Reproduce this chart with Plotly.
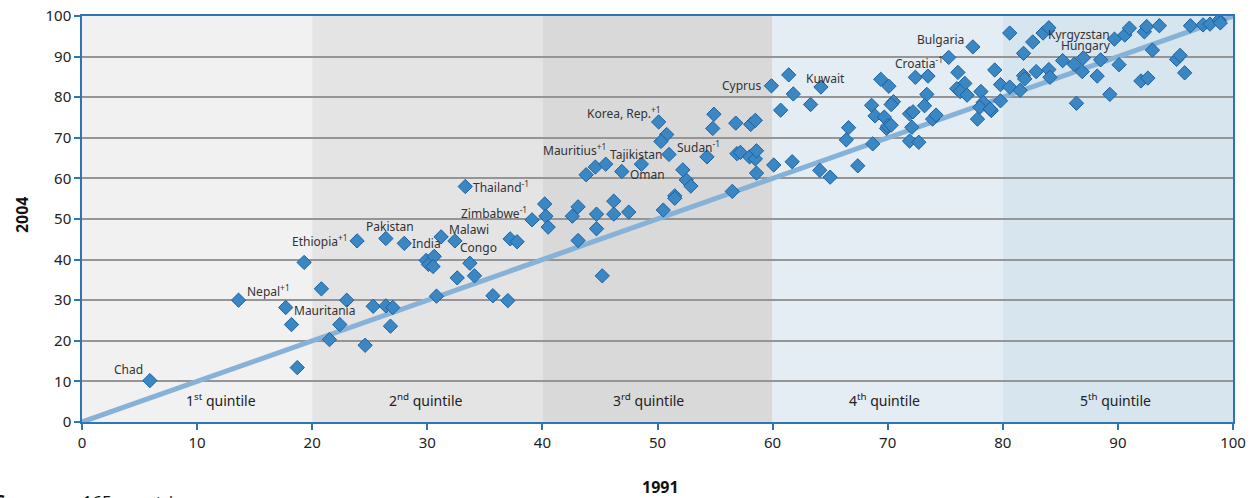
import plotly.graph_objects as go

# ---- data ----
x1991 = [5.9, 13.6, 17.7, 18.2, 18.7, 19.3, 20.8, 21.5, 22.4, 23.0, 23.9, 24.6, 25.3, 26.4, 27.0, 26.8,
         26.4, 28.0, 29.9, 30.1, 30.6, 30.5, 30.8, 31.2, 32.4, 32.6, 33.7, 34.1, 35.7, 37.0, 37.2, 37.8,
         33.3, 39.1, 40.2, 40.3, 40.5, 42.6, 43.1, 43.1, 44.7, 44.7, 45.2, 46.2, 46.2, 47.5, 50.5, 51.5,
         51.5, 52.5, 52.9, 56.5, 43.8, 44.6, 45.5, 46.9, 48.6, 51.0, 52.2, 50.1, 50.8, 50.3, 54.9, 54.8,
         56.8, 58.1, 58.5, 54.3, 56.9, 57.2, 58.0, 58.5, 58.6, 58.6, 59.9, 61.4, 61.8, 60.7, 60.1, 61.7,
         64.2, 63.3, 64.1, 65.0, 67.4, 66.4, 66.6, 68.7, 68.6, 68.9, 69.7, 69.4, 70.1, 70.5, 70.3, 69.9,
         70.0, 70.3, 71.9, 72.7, 72.1, 71.9, 72.2, 72.4, 73.5, 73.4, 73.2, 73.9, 74.2, 75.3, 77.4, 76.1,
         76.7, 76.0, 76.3, 76.9, 78.1, 78.3, 78.0, 77.8, 79.0, 78.9, 79.3, 79.8, 80.6, 79.8, 81.5, 80.6,
         81.8, 82.6, 81.8, 81.9, 82.9, 84.0, 84.1, 83.5, 84.0, 85.2, 86.2, 87.0, 86.9, 86.4, 88.2, 88.5,
         89.3, 90.1, 89.7, 90.6, 91.0, 92.3, 92.5, 93.6, 93.0, 92.0, 92.6, 95.1, 95.4, 95.8, 96.3, 97.4,
         98.0, 98.8, 98.9]
y2004 = [10.2, 30.0, 28.2, 24.0, 13.4, 39.3, 32.8, 20.3, 24.0, 30.0, 44.6, 18.9, 28.5, 28.6, 28.2, 23.6,
         45.2, 44.0, 39.8, 38.8, 40.8, 38.3, 31.0, 45.6, 44.6, 35.5, 39.1, 36.0, 31.1, 29.9, 45.1, 44.4,
         58.0, 49.8, 53.7, 50.7, 48.0, 50.7, 53.0, 44.7, 51.2, 47.6, 36.0, 54.4, 51.2, 51.7, 52.2, 55.7,
         55.1, 59.6, 58.1, 56.8, 60.9, 62.8, 63.5, 61.7, 63.5, 65.9, 62.1, 73.9, 70.8, 69.1, 75.8, 72.3,
         73.6, 73.3, 74.3, 65.3, 66.1, 66.4, 65.3, 64.8, 66.8, 61.3, 82.8, 85.5, 80.8, 76.8, 63.3, 64.1,
         82.5, 78.2, 62.0, 60.3, 63.1, 69.5, 72.5, 68.5, 78.0, 75.4, 75.1, 84.4, 82.7, 78.9, 78.2, 72.3,
         72.9, 73.1, 69.2, 68.9, 72.6, 75.9, 76.4, 84.9, 85.2, 80.7, 77.9, 74.6, 75.6, 89.8, 92.4, 86.1,
         83.4, 82.1, 81.4, 80.5, 81.4, 78.7, 77.5, 74.6, 76.7, 77.1, 86.7, 83.1, 82.5, 79.1, 81.7, 95.8,
         90.8, 93.6, 85.3, 84.5, 86.3, 86.8, 84.9, 95.8, 97.1, 89.0, 88.1, 89.7, 86.3, 78.5, 85.2, 89.2,
         80.7, 88.0, 94.3, 95.3, 97.0, 96.1, 97.4, 97.6, 91.6, 84.0, 84.7, 89.3, 90.3, 86.0, 97.6, 97.8,
         98.0, 99.0, 98.3]

label_names = ["Chad", "Nepal<sup>+1</sup>", "Mauritania", "Ethiopia<sup>+1</sup>", "Pakistan", "India",
               "Malawi", "Congo", "Thailand<sup>-1</sup>", "Zimbabwe<sup>-1</sup>", "Mauritius<sup>+1</sup>",
               "Tajikistan", "Oman", "Sudan<sup>-1</sup>", "Korea, Rep.<sup>+1</sup>", "Cyprus", "Kuwait",
               "Croatia<sup>-1</sup>", "Bulgaria", "Kyrgyzstan", "Hungary"]
label_points = [0, 1, 2, 10, 16, 17, 23, 24, 32, 33, 54, 56, 55, 57, 59, 74, 80, 109, 110, 146, 145]

quintile_edges = [0, 20, 40, 60, 80, 100]
quintile_names = ["1<sup>st</sup> quintile", "2<sup>nd</sup> quintile", "3<sup>rd</sup> quintile",
                  "4<sup>th</sup> quintile", "5<sup>th</sup> quintile"]
ticks = [0, 10, 20, 30, 40, 50, 60, 70, 80, 90, 100]

# ---- styles ----
quintile_colors = ["#f1f1f1", "#e4e4e4", "#d9d9d9", "#e4ecf4", "#d7e5ef"]
quintile_label_x = [12.1, 29.9, 49.2, 69.7, 89.8]
# (xanchor, xshift, yshift) per label
label_style = [("right", -5, 11), ("left", 6, 9), ("left", 6, -3), ("right", -7, 0), ("center", 4, 12),
               ("left", 6, 0), ("left", 6, 7), ("left", 3, -7), ("left", 6, 0), ("right", -3, 7),
               ("right", 2, 14), ("center", -5, 10), ("left", 6, -3), ("left", 6, 7), ("right", 4, 9),
               ("right", -8, 0), ("center", 5, 9), ("right", -4, -6), ("right", -7, 7),
               ("right", -2, 5), ("right", -6, 19)]

FONT = "Noto Sans"
BLUE = "#2e75b6"

fig = go.Figure()

shapes = []
for i in range(5):
    shapes.append(dict(type="rect", xref="x", yref="y", x0=quintile_edges[i], x1=quintile_edges[i + 1],
                       y0=0, y1=100, fillcolor=quintile_colors[i], line=dict(width=0), layer="below"))

fig.add_trace(go.Scatter(x=[0, 100], y=[0, 100], mode="lines",
                         line=dict(color="#86b2d8", width=5), hoverinfo="skip", showlegend=False))
fig.add_trace(go.Scatter(x=x1991, y=y2004, mode="markers",
                         marker=dict(symbol="diamond", size=11, color="#3b87c4",
                                     line=dict(color="#1c62a3", width=1)),
                         showlegend=False))

annotations = []
for name, idx, (xa, xs, ys) in zip(label_names, label_points, label_style):
    annotations.append(dict(x=x1991[idx], y=y2004[idx], text=name, showarrow=False, xanchor=xa,
                            yanchor="middle", xshift=xs, yshift=ys,
                            font=dict(family=FONT, size=12, color="#333333")))
for name, xq in zip(quintile_names, quintile_label_x):
    annotations.append(dict(x=xq, y=5.4, text=name, showarrow=False, xanchor="center", yanchor="middle",
                            font=dict(family=FONT, size=14, color="#222222")))

annotations.append(dict(xref="paper", yref="paper", x=-0.052, y=0.51, text="<b>2004</b>", showarrow=False,
                        textangle=-90, xanchor="center", yanchor="middle",
                        font=dict(family=FONT, size=16, color="#111111")))
annotations.append(dict(xref="paper", yref="paper", x=0.503, y=-0.16, text="<b>1991</b>", showarrow=False,
                        xanchor="center", yanchor="middle",
                        font=dict(family=FONT, size=16, color="#111111")))
annotations.append(dict(xref="paper", yref="paper", x=0.0966, y=-0.1625, text="<b>Coverage:</b> 165 countries",
                        showarrow=False, xanchor="right", yanchor="top",
                        font=dict(family=FONT, size=17, color="#111111")))

fig.update_layout(
    width=1255, height=498,
    margin=dict(l=82, r=22, t=16, b=76, autoexpand=False),
    paper_bgcolor="white", plot_bgcolor="white",
    shapes=shapes, annotations=annotations,
    font=dict(family=FONT, size=15, color="#222222"),
    xaxis=dict(range=[0, 100], tickvals=ticks, showgrid=False, zeroline=False, automargin=False,
               showline=True, linecolor=BLUE, linewidth=1.5, mirror=True,
               ticks="outside", ticklen=6, tickcolor=BLUE, tickwidth=1.5,
               tickfont=dict(family=FONT, size=15, color="#222222")),
    yaxis=dict(range=[0, 100], tickvals=ticks, showgrid=True, gridcolor="#959595", gridwidth=1.5,
               zeroline=False, automargin=False, showline=True, linecolor=BLUE, linewidth=1.5, mirror=True,
               ticks="outside", ticklen=6, tickcolor=BLUE, tickwidth=1.5,
               tickfont=dict(family=FONT, size=15, color="#222222")),
)

fig.write_html("out.html", config={"displayModeBar": False},
               post_script="document.body.style.margin='0px';")
